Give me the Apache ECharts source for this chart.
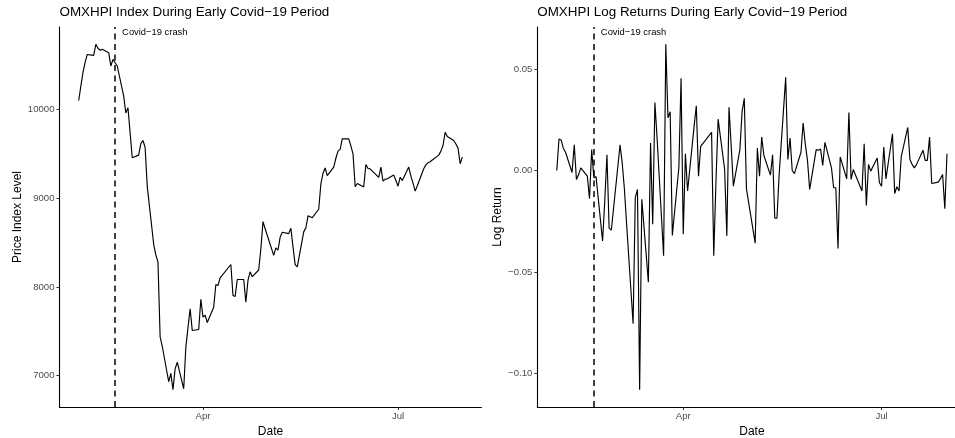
<!DOCTYPE html>
<html>
<head>
<meta charset="utf-8">
<title>OMXHPI during early Covid-19 period</title>
<script src="https://cdn.jsdelivr.net/npm/echarts@6/dist/echarts.min.js"></script>
<style>
  html, body { margin: 0; padding: 0; background: #fff; }
  #chart { width: 955px; height: 438px; }
</style>
</head>
<body>
<div id="chart"></div>
<script>
// Trading days, Feb-Jul 2020
const tradingDays = [
  '2020-02-03','2020-02-04','2020-02-05','2020-02-06','2020-02-07','2020-02-10','2020-02-11','2020-02-12','2020-02-13','2020-02-14',
  '2020-02-17','2020-02-18','2020-02-19','2020-02-20','2020-02-21','2020-02-24','2020-02-25','2020-02-26','2020-02-27','2020-02-28',
  '2020-03-02','2020-03-03','2020-03-04','2020-03-05','2020-03-06','2020-03-09','2020-03-10','2020-03-11','2020-03-12','2020-03-13',
  '2020-03-16','2020-03-17','2020-03-18','2020-03-19','2020-03-20','2020-03-23','2020-03-24','2020-03-25','2020-03-26','2020-03-27',
  '2020-03-30','2020-03-31',
  '2020-04-01','2020-04-02','2020-04-03','2020-04-06','2020-04-07','2020-04-08','2020-04-09','2020-04-14','2020-04-15','2020-04-16',
  '2020-04-17','2020-04-20','2020-04-21','2020-04-22','2020-04-23','2020-04-24','2020-04-27','2020-04-28','2020-04-29','2020-04-30',
  '2020-05-04','2020-05-05','2020-05-06','2020-05-07','2020-05-08','2020-05-11','2020-05-12','2020-05-13','2020-05-14','2020-05-15',
  '2020-05-18','2020-05-19','2020-05-20','2020-05-21','2020-05-22','2020-05-25','2020-05-26','2020-05-27','2020-05-28','2020-05-29',
  '2020-06-01','2020-06-02','2020-06-03','2020-06-04','2020-06-05','2020-06-08','2020-06-09','2020-06-10','2020-06-11','2020-06-12',
  '2020-06-15','2020-06-16','2020-06-17','2020-06-18','2020-06-22','2020-06-23','2020-06-24','2020-06-25','2020-06-26','2020-06-29',
  '2020-06-30',
  '2020-07-01','2020-07-02','2020-07-03','2020-07-06','2020-07-07','2020-07-08','2020-07-09','2020-07-10','2020-07-13','2020-07-14',
  '2020-07-15','2020-07-16','2020-07-17','2020-07-20','2020-07-21','2020-07-22','2020-07-23','2020-07-24','2020-07-27','2020-07-28',
  '2020-07-29','2020-07-30','2020-07-31'
];

// OMXHPI closing level
const indexLevel = [
  10101, 10260, 10417, 10530, 10620, 10610, 10735, 10690, 10668, 10680,
  10640, 10490, 10565, 10527, 10490, 10150, 9960, 10020, 9735, 9455,
  9485, 9615, 9650, 9571, 9130, 8480, 8360, 8280, 7435, 7330,
  6930, 7025, 6840, 7075, 7150, 6850, 7320, 7540, 7752, 7508,
  7519, 7860,
  7658, 7680, 7597, 7771, 8026, 8015, 8101, 8252, 7902, 7891,
  8083, 8083, 7827, 8075, 8170, 8115, 8190, 8430, 8735, 8655,
  8354, 8440, 8415, 8560, 8615, 8600, 8660, 8450, 8250, 8225,
  8620, 8665, 8800, 8790, 8780, 8875, 9160, 9280, 9340, 9255,
  9350, 9450, 9530, 9550, 9670, 9668, 9590, 9500, 9130, 9165,
  9125, 9380, 9335, 9330, 9235, 9350, 9192, 9215, 9218, 9260,
  9200,
  9135, 9236, 9198, 9350, 9248, 9170, 9079, 9140, 9331, 9375,
  9400, 9410, 9430, 9485, 9530, 9594, 9744, 9696, 9650, 9610,
  9564, 9388, 9462
];

// Daily log returns
const logReturn = [
  0, 0.0155, 0.015, 0.011, 0.009, -0.001, 0.0127, -0.0044, -0.002, 0.0013,
  -0.0028, -0.0139, 0.0103, -0.0036, -0.003, -0.0347, -0.015, 0.0078, -0.0284, -0.0294,
  0.002, 0.0127, 0.0038, -0.009, -0.026, -0.0755, -0.0134, -0.0093, -0.108, -0.0142,
  -0.055, 0.0136, -0.0265, 0.0335, 0.016, -0.042, 0.0622, 0.026, 0.029, -0.032,
  0.0015, 0.0454,
  -0.0314, 0.0083, -0.0101, 0.022, 0.0319, -0.0028, 0.0119, 0.0188, -0.042, -0.006,
  0.0253, 0.0005, -0.0322, 0.0312, 0.012, -0.0077, 0.0103, 0.029, 0.0356, -0.009,
  -0.0358, 0.0111, -0.0028, 0.0165, 0.0074, -0.0023, 0.0078, -0.0235, -0.0235, -0.002,
  0.0459, 0.0054, 0.016, 0.0, -0.0015, 0.009, 0.0234, 0.013, 0.005, -0.0093,
  0.0103, 0.01, 0.0106, 0.0025, 0.0139, 0.0013, -0.0085, -0.0085, -0.0384, 0.0067,
  -0.0041, 0.0286, -0.0044, 0.0005, -0.0101, 0.0132, -0.0172, 0.003, -0.0003, 0.0062,
  -0.006,
  -0.0077, 0.0116, -0.0041, 0.0181, -0.0113, -0.008, -0.0101, 0.0067, 0.0212, 0.0054,
  0.003, 0.0013, 0.0029, 0.01, 0.005, 0.005, 0.0165, -0.0064, -0.0057, -0.004,
  -0.002, -0.0188, 0.0083
];

// Reference date and annotation
const crashDate = '2020-02-20';
const crashLabel = 'Covid\u221219 crash';

// Axis ticks
const dateTicks = ['2020-04-01', '2020-07-01'];
const monthNames = ['Jan','Feb','Mar','Apr','May','Jun','Jul','Aug','Sep','Oct','Nov','Dec'];
const levelTicks = [7000, 8000, 9000, 10000];
const returnTicks = [-0.10, -0.05, 0.00, 0.05];

const titles = [
  'OMXHPI Index During Early Covid\u221219 Period',
  'OMXHPI Log Returns During Early Covid\u221219 Period'
];
const yNames = ['Price Index Level', 'Log Return'];

function toTime(s) {
  const p = s.split('-').map(Number);
  return Date.UTC(p[0], p[1] - 1, p[2]);
}

// Continuous scale limits padded by 5% on each side
function padded(lo, hi) {
  const pad = (hi - lo) * 0.05;
  return [lo - pad, hi + pad];
}
const times = tradingDays.map(toTime);
const xLim = padded(Math.min.apply(null, times), Math.max.apply(null, times));
const levelLim = padded(Math.min.apply(null, indexLevel), Math.max.apply(null, indexLevel));
const returnLim = padded(Math.min.apply(null, logReturn), Math.max.apply(null, logReturn));

const FONT = '"Liberation Sans", Arial, Helvetica, sans-serif';
const TICK_COLOR = '#333333';
const LABEL_COLOR = '#4D4D4D';

function fmtNum(v, digits) {
  const s = Math.abs(v).toFixed(digits);
  return (v < -1e-12 ? '\u2212' : '') + s;
}

// Dates are placed on a continuous (millisecond) scale
function xAxisFor(idx) {
  const tickTimes = dateTicks.map(toTime);
  return {
    type: 'value',
    gridIndex: idx,
    min: xLim[0],
    max: xLim[1],
    name: 'Date',
    nameLocation: 'middle',
    nameGap: 17,
    nameTextStyle: { fontFamily: FONT, fontSize: 12, color: '#000' },
    axisLine: { show: true, onZero: false, lineStyle: { color: '#000', width: 1.1 } },
    axisTick: { show: true, length: 3, lineStyle: { color: TICK_COLOR, width: 1 },
      customValues: tickTimes },
    axisLabel: {
      show: true, margin: 4, fontFamily: FONT, fontSize: 9.6, color: LABEL_COLOR,
      customValues: tickTimes,
      formatter: function (v) { return monthNames[new Date(v).getUTCMonth()]; }
    },
    splitLine: { show: false }
  };
}

function yAxisFor(idx, lim, ticks, digits, gap) {
  return {
    type: 'value',
    gridIndex: idx,
    min: lim[0],
    max: lim[1],
    name: yNames[idx],
    nameLocation: 'middle',
    nameGap: gap,
    nameRotate: 90,
    nameTextStyle: { fontFamily: FONT, fontSize: 12, color: '#000' },
    axisLine: { show: true, onZero: false, lineStyle: { color: '#000', width: 1.1 } },
    axisTick: { show: true, length: 3, lineStyle: { color: TICK_COLOR, width: 1 },
      customValues: ticks },
    axisLabel: {
      show: true, margin: 5, fontFamily: FONT, fontSize: 9.6, color: LABEL_COLOR,
      customValues: ticks,
      formatter: function (v) { return fmtNum(v, digits); }
    },
    splitLine: { show: false }
  };
}

function seriesFor(idx, values, yTop) {
  return {
    type: 'line',
    xAxisIndex: idx,
    yAxisIndex: idx,
    data: times.map(function (t, i) { return [t, values[i]]; }),
    showSymbol: false,
    symbol: 'none',
    lineStyle: { color: '#000', width: 1.15 },
    silent: true,
    markLine: {
      silent: true,
      symbol: ['none', 'none'],
      label: { show: false },
      lineStyle: { color: '#000', width: 1.5, type: [6, 4.5] },
      data: [{ xAxis: toTime(crashDate) }]
    },
    markPoint: {
      silent: true,
      symbol: 'circle',
      symbolSize: 0,
      label: {
        show: true,
        position: 'right',
        distance: 7,
        offset: [0, 5.5],
        formatter: crashLabel,
        fontFamily: FONT,
        fontSize: 9.4,
        color: '#000'
      },
      data: [{ coord: [toTime(crashDate), yTop] }]
    }
  };
}

const titleStyle = { fontFamily: FONT, fontSize: 13.4, fontWeight: 'normal', color: '#000' };

const chart = echarts.init(document.getElementById('chart'), null, { renderer: 'canvas' });
chart.setOption({
  animation: false,
  backgroundColor: '#ffffff',
  title: [
    { text: titles[0], left: 59.5, top: 6, padding: 0, textStyle: titleStyle },
    { text: titles[1], left: 537.3, top: 6, padding: 0, textStyle: titleStyle }
  ],
  // The right-hand panel runs past the page edge and is cut off there
  grid: [
    { left: 59.5, top: 27, width: 422, height: 380, containLabel: false, outerBoundsMode: 'none' },
    { left: 537.3, top: 27, width: 429.2, height: 380, containLabel: false, outerBoundsMode: 'none' }
  ],
  xAxis: [xAxisFor(0), xAxisFor(1)],
  yAxis: [
    yAxisFor(0, levelLim, levelTicks, 0, 36),
    yAxisFor(1, returnLim, returnTicks, 2, 33)
  ],
  series: [
    seriesFor(0, indexLevel, levelLim[1]),
    seriesFor(1, logReturn, returnLim[1])
  ]
});
</script>
</body>
</html>
